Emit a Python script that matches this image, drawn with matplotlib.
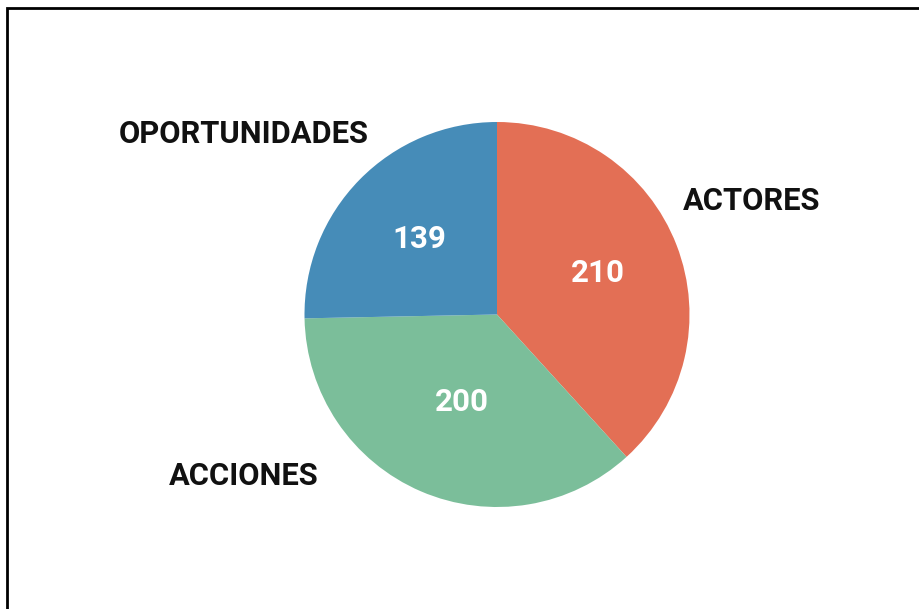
import matplotlib
matplotlib.use("Agg")
import matplotlib.pyplot as plt
from matplotlib.patches import Rectangle

plt.rcParams['font.family'] = ['Roboto', 'DejaVu Sans']

# data
categories = ["ACTORES", "ACCIONES", "OPORTUNIDADES"]
values = [210, 200, 139]
colors = ["#E36F55", "#7BBE9A", "#468CB8"]

# label / value text positions (pixels, top-left origin, baseline)
label_pos = [(683, 210, "left"), (319, 485, "right"), (369, 143, "right")]
value_pos = [(598, 282), (462, 411), (419, 248)]

W, H = 920, 609
fig = plt.figure(figsize=(W / 100, H / 100), dpi=100)
ax = fig.add_axes([0, 0, 1, 1])

cx, cy, r = 497, H - 314.5, 192.5
ax.pie(values, colors=colors, startangle=90, counterclock=False,
       center=(cx, cy), radius=r, frame=True,
       wedgeprops={"linewidth": 0})
ax.set_xlim(0, W)
ax.set_ylim(0, H)
ax.set_aspect("auto")
ax.axis("off")

for cat, (x, y, ha) in zip(categories, label_pos):
    ax.text(x, H - y, cat, ha=ha, va="baseline", fontsize=22.2,
            fontweight="bold", color="#111111")

for v, (x, y) in zip(values, value_pos):
    ax.text(x, H - y, str(v), ha="center", va="baseline", fontsize=22.5,
            fontweight="bold", color="white")

# frame border (only top and left visible)
ax.add_patch(Rectangle((7.5, -10), W, H - 7.5 + 10, fill=False,
                       edgecolor="black", linewidth=2))

fig.savefig("out.png", dpi=100)
